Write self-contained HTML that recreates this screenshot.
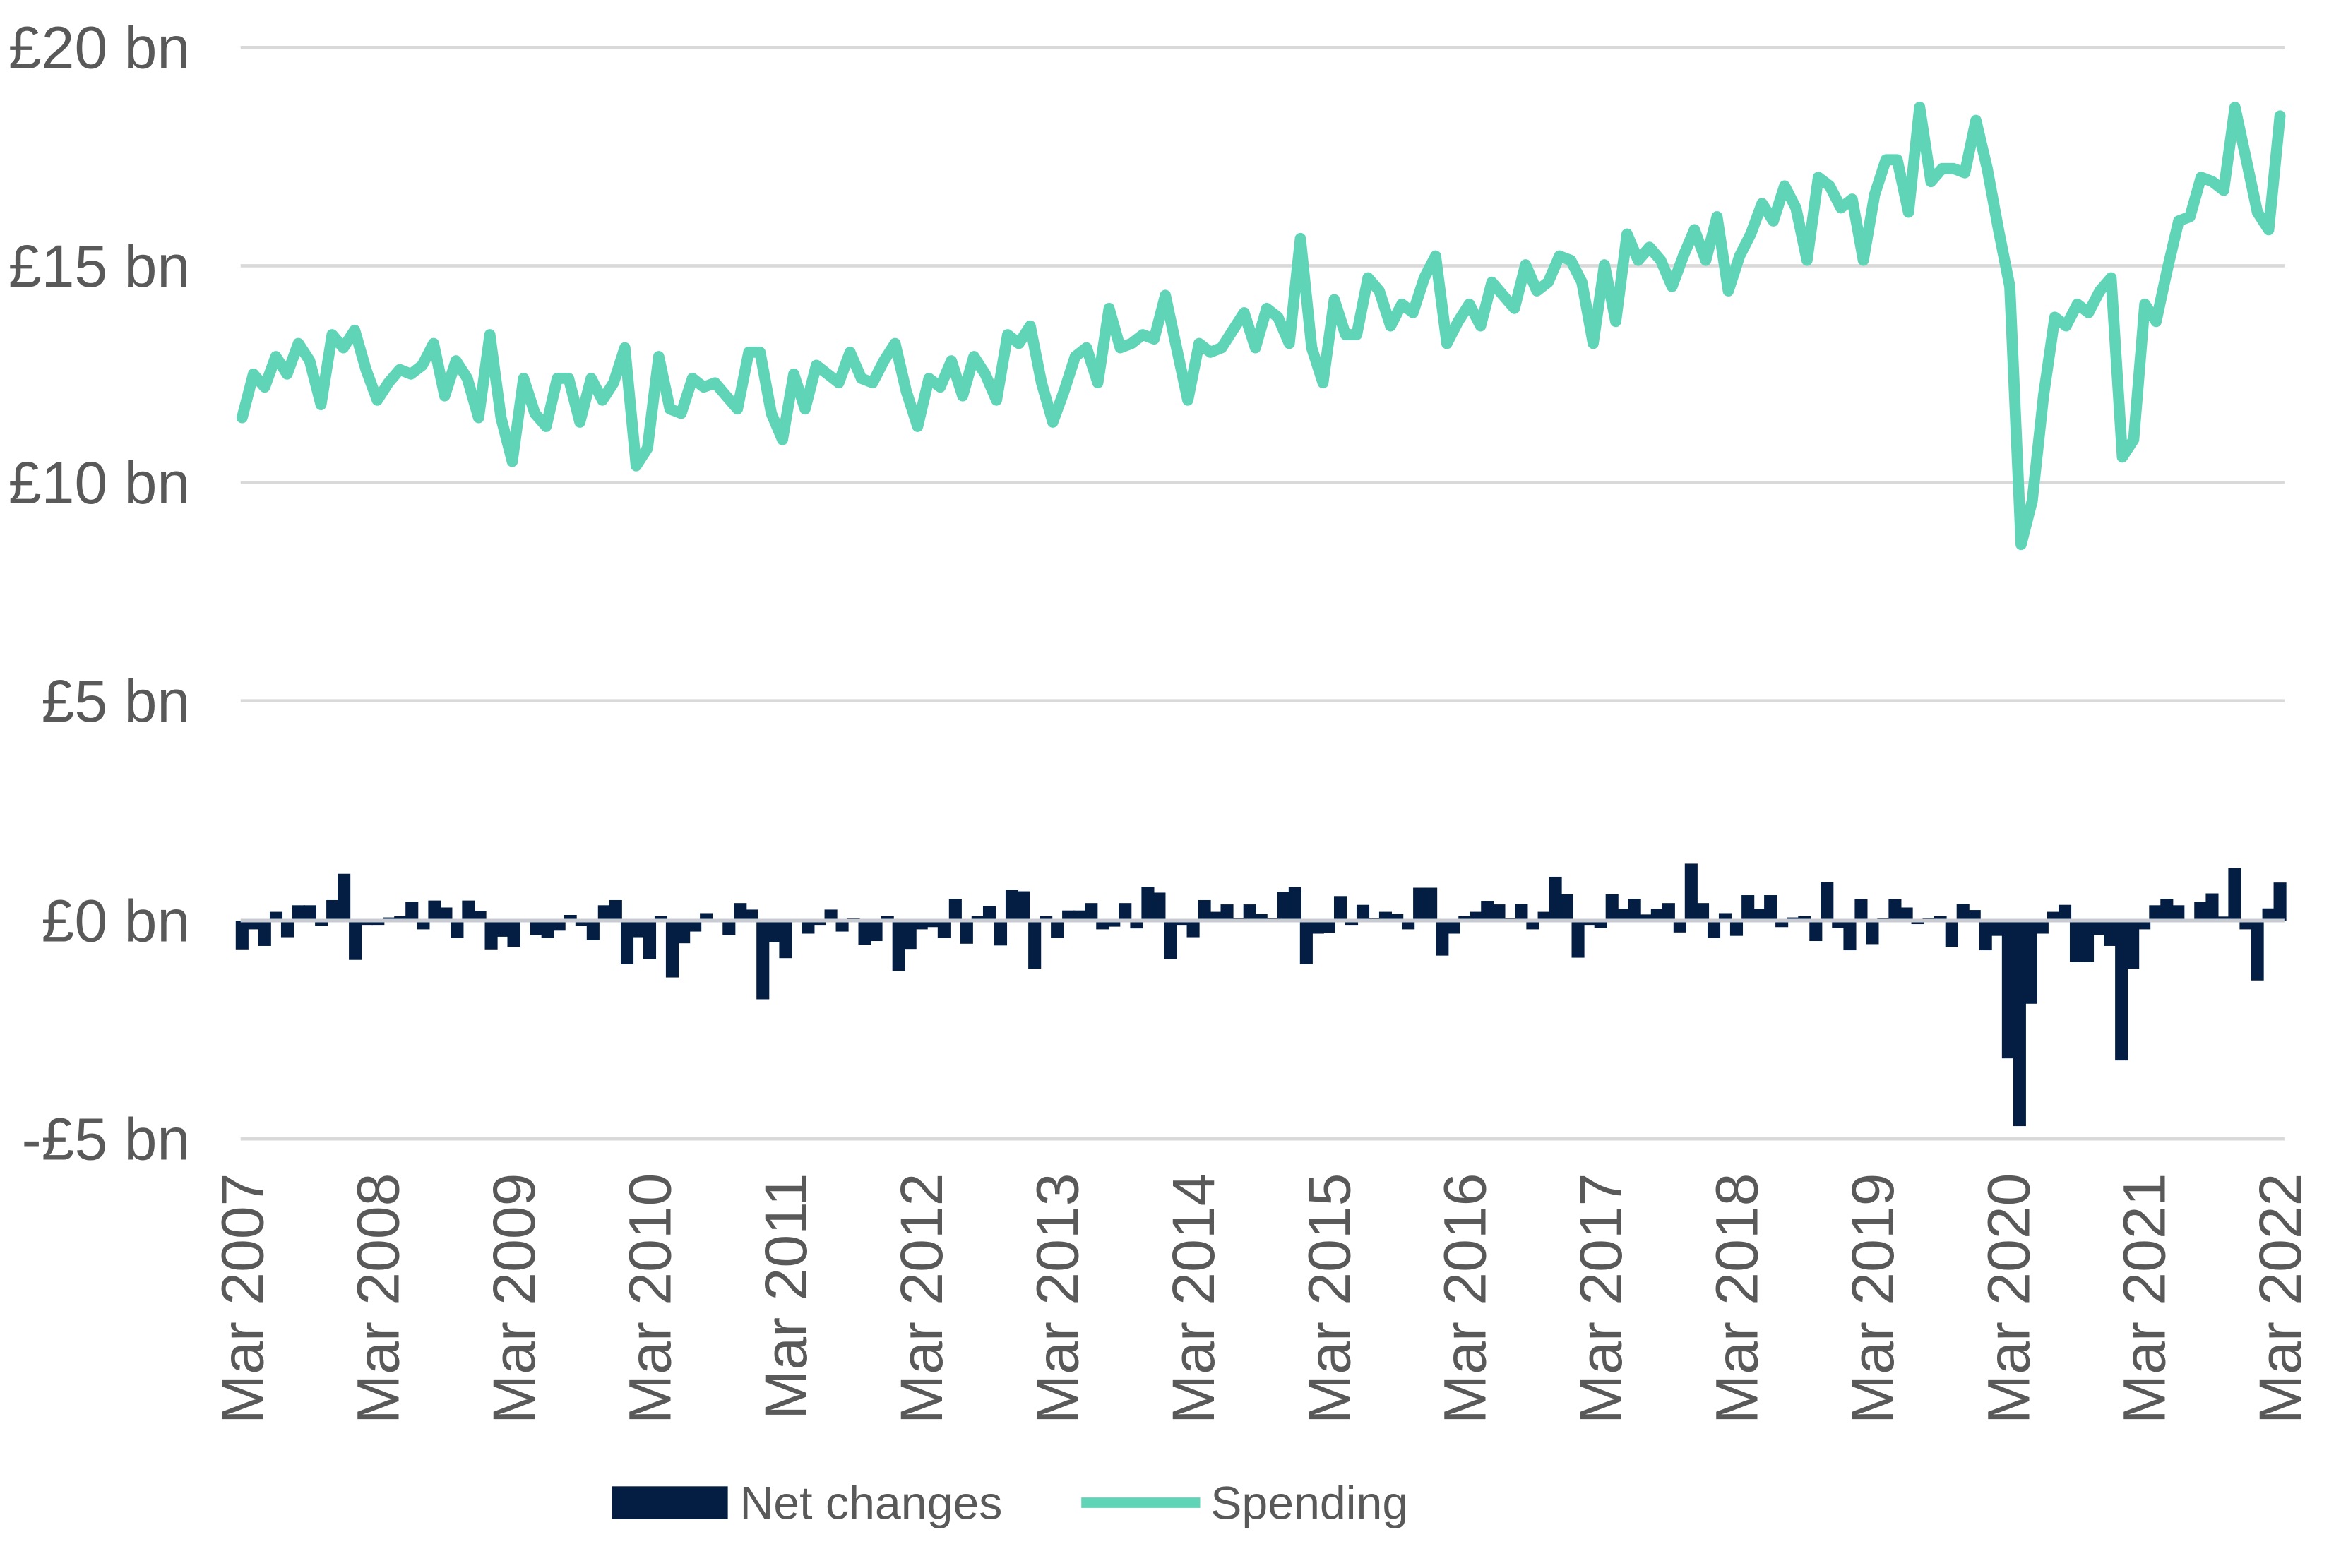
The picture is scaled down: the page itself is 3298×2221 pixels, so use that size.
<!DOCTYPE html>
<html><head><meta charset="utf-8"><style>
html,body{margin:0;padding:0;background:#fff;}
svg{display:block;}
text{font-family:"Liberation Sans",Arial,sans-serif;fill:#595959;}
</style></head><body>
<svg id="c" width="3298" height="2221" viewBox="0 0 1568 1056" preserveAspectRatio="none" xmlns="http://www.w3.org/2000/svg">
<g id="grid" stroke="#d9d9d9" stroke-width="2.2">
<line x1="162" y1="32" x2="1538" y2="32"/>
<line x1="162" y1="179" x2="1538" y2="179"/>
<line x1="162" y1="325" x2="1538" y2="325"/>
<line x1="162" y1="472" x2="1538" y2="472"/>
<line x1="162" y1="767" x2="1538" y2="767"/>
</g>
<g font-size="40" text-anchor="end">
<text x="128" y="46">£20 bn</text>
<text x="128" y="193">£15 bn</text>
<text x="128" y="339">£10 bn</text>
<text x="128" y="486">£5 bn</text>
<text x="128" y="634">£0 bn</text>
<text x="128" y="781">-£5 bn</text>
</g>
<g id="bars" fill="#031e42"></g>
<line x1="162" y1="620" x2="1538" y2="620" stroke="#c8cbd2" stroke-width="2.4"/>
<polyline id="ln" fill="none" stroke="#5fd4b6" stroke-width="7.5" stroke-linejoin="round" stroke-linecap="round"/>
<g id="xl" font-size="40"></g>
<rect x="412" y="1001" width="78" height="22" fill="#031e42"/>
<text x="498" y="1023" font-size="31.5">Net changes</text>
<line x1="728" y1="1012" x2="808" y2="1012" stroke="#5fd4b6" stroke-width="7"/>
<text x="815" y="1023" font-size="31.5">Spending</text>
</svg>
<script>
var v=[11.5,12.5,12.2,12.9,12.5,13.2,12.8,11.8,13.4,13.1,13.5,12.6,
11.9,12.3,12.6,12.5,12.7,13.2,12.0,12.8,12.4,11.5,13.4,11.5,
10.5,12.4,11.6,11.3,12.4,12.4,11.4,12.4,11.9,12.3,13.1,10.4,
10.8,12.9,11.7,11.6,12.4,12.2,12.3,12.0,11.7,13.0,13.0,11.6,
11.0,12.5,11.7,12.7,12.5,12.3,13.0,12.4,12.3,12.8,13.2,12.1,
11.3,12.4,12.2,12.8,12.0,12.9,12.5,11.9,13.4,13.2,13.6,12.3,
11.4,12.1,12.9,13.1,12.3,14.0,13.1,13.2,13.4,13.3,14.3,13.1,
11.9,13.2,13.0,13.1,13.5,13.9,13.1,14.0,13.8,13.2,15.6,13.1,
12.3,14.2,13.4,13.4,14.7,14.4,13.6,14.1,13.9,14.7,15.2,13.2,
13.7,14.1,13.6,14.6,14.3,14.0,15.0,14.4,14.6,15.2,15.1,14.6,
13.2,15.0,13.7,15.7,15.1,15.4,15.1,14.5,15.2,15.8,15.1,16.1,
14.4,15.2,15.7,16.4,16.0,16.8,16.3,15.1,17.0,16.8,16.3,16.5,
15.1,16.6,17.4,17.4,16.2,18.6,16.9,17.2,17.2,17.1,18.3,17.2,
15.8,14.5,8.6,9.6,12.0,13.8,13.6,14.1,13.9,14.4,14.7,10.6,
11.0,14.1,13.7,14.9,16.0,16.1,17.0,16.9,16.7,18.6,17.4,16.2,
15.8,18.4];
var b=[-0.66,-0.2,-0.58,0.2,-0.38,0.35,0.35,-0.12,0.47,1.07,-0.9,-0.1,-0.1,0.07,0.1,0.43,-0.2,0.46,0.3,-0.4,0.46,0.22,-0.66,-0.37,-0.6,0.03,-0.33,-0.4,-0.23,0.13,-0.12,-0.45,0.35,0.47,-1.0,-0.38,-0.88,0.1,-1.3,-0.52,-0.25,0.17,0.02,-0.33,0.4,0.25,
-1.8,-0.5,-0.86,0,-0.3,-0.1,0.25,-0.25,0.05,-0.55,-0.47,0.1,-1.15,-0.65,-0.2,-0.15,-0.4,0.5,-0.53,0.1,0.33,-0.57,0.7,0.67,-1.1,0.1,-0.4,0.23,0.23,0.4,-0.2,-0.14,0.4,-0.18,0.77,0.64,-0.88,-0.1,-0.38,0.47,0.2,0.37,0.05,0.37,0.15,0.05,
0.66,0.76,-1.0,-0.3,-0.28,0.56,-0.1,0.36,0.05,0.2,0.15,-0.2,0.75,0.75,-0.8,-0.3,0.1,0.2,0.45,0.37,0.05,0.38,-0.2,0.2,1.0,0.6,-0.85,-0.1,-0.17,0.6,0.27,0.5,0.14,0.27,0.4,-0.27,1.3,0.4,-0.4,0.17,-0.35,0.58,0.27,0.58,-0.15,0.07,
0.1,-0.47,0.88,-0.17,-0.68,0.49,-0.54,0.05,0.49,0.3,-0.08,0.05,0.1,-0.6,0.38,0.24,-0.68,-0.35,-3.15,-4.7,-1.9,-0.3,0.2,0.36,-0.95,-0.95,-0.33,-0.58,-3.2,-1.1,-0.2,0.35,0.5,0.35,0.02,0.43,0.62,0.09,1.2,-0.2,-1.37,0.28,0.87];
var x0=163,x1=1535;
function Y(q){return 620-q*29.45;}
var n=v.length,dx=(x1-x0)/(n-1),pts=[];
for(var i=0;i<n;i++)pts.push((x0+i*dx).toFixed(1)+','+Y(v[i]).toFixed(1));
document.getElementById('ln').setAttribute('points',pts.join(' '));
var m=b.length,db=(x1-x0)/(m-1),bars='';
for(var j=0;j<m;j++){var x=x0+j*db,d=b[j],y=d>0?Y(d):620,h=Math.abs(d)*29.45;
 bars+='<rect x="'+(x-4.3).toFixed(1)+'" y="'+y.toFixed(1)+'" width="8.6" height="'+h.toFixed(1)+'"/>';}
document.getElementById('bars').innerHTML=bars;
var xl='';
for(var k=0;k<=15;k++){var x=x0+k*12*(x1-x0)/180;
 xl+='<text transform="translate('+(x+14).toFixed(1)+',790) rotate(-90)" text-anchor="end">Mar '+(2007+k)+'</text>';}
document.getElementById('xl').innerHTML=xl;
</script>
</body></html>
